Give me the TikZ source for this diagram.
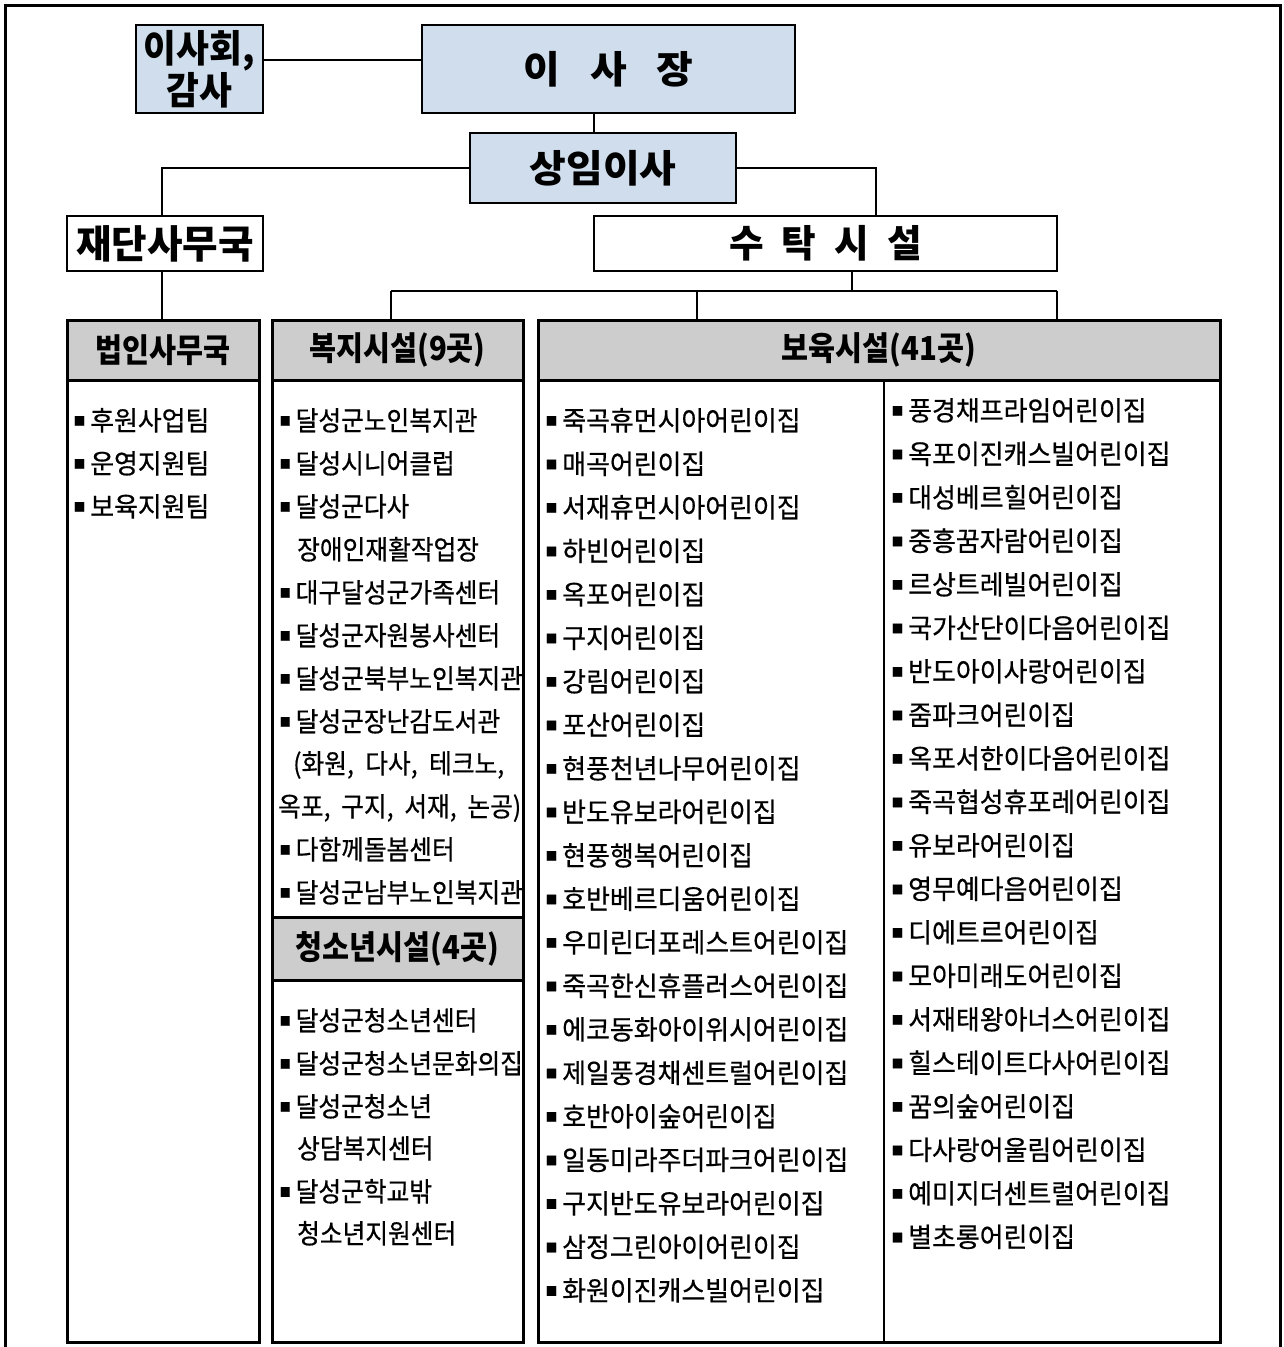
\documentclass[tikz,border=0pt]{standalone}
\usepackage{fontspec}
\setmainfont{Noto Sans CJK KR}
\newfontfamily\itemf{Noto Sans CJK KR}[FakeStretch=0.96,FakeBold=0.6]
\newfontfamily\itemn{Noto Sans CJK KR}[FakeStretch=0.915,FakeBold=0.6]
\newfontfamily\hdf{Noto Sans CJK KR}[FakeStretch=0.89]
\newfontfamily\topa{Noto Sans CJK KR}[FakeStretch=0.99]
\newfontfamily\topb{Noto Sans CJK KR}[FakeStretch=1.05]
\newfontfamily\topc{Noto Sans CJK KR}[FakeStretch=0.94]
\definecolor{boxblue}{HTML}{CFDDEC}
\definecolor{hdgray}{HTML}{CDCDCD}
\newcommand\bul{\raisebox{5pt}{\fontsize{12}{12}\selectfont ■}\hspace{5pt}}
\begin{document}
\begin{tikzpicture}[x=1pt,y=-1pt,
  topbox/.style={draw, line width=2.6pt, inner sep=0pt, align=center},
  bluebox/.style={topbox, fill=boxblue},
  colbox/.style={draw, line width=3pt, inner sep=0pt, minimum height=1022pt},
  hdbox/.style={draw, line width=3pt, fill=hdgray, inner sep=0pt, minimum height=60pt, font=\hdf\bfseries\fontsize{33}{36}\selectfont},
  conn/.style={line width=2pt},
  item/.style={anchor=base west, inner sep=0pt, font=\itemf\fontsize{27}{30}\selectfont},
  itemn/.style={anchor=base west, inner sep=0pt, font=\itemn\fontsize{27}{30}\selectfont}
]
\useasboundingbox (0,0) rectangle (1284,1347);
% outer frame
\draw[line width=3pt] (5,1352) -- (5,5) -- (1280,5) -- (1280,1352);

% top boxes
\node[bluebox, minimum width=127pt, minimum height=88pt, font=\topc\bfseries\fontsize{38}{39}\selectfont] (board) at (199.5,69) {이사회,\\감사};
\node[bluebox, minimum width=373pt, minimum height=88pt, font=\topb\bfseries\fontsize{38}{40}\selectfont] (chair) at (608.5,69) {이\hspace{30pt}사\hspace{30pt}장};
\node[bluebox, minimum width=266pt, minimum height=70pt, font=\topb\bfseries\fontsize{38}{40}\selectfont] (exec) at (603,168) {상임이사};
\node[topbox, minimum width=196pt, minimum height=55pt, font=\topa\bfseries\fontsize{39}{40}\selectfont] (found) at (165,243.5) {재단사무국};
\node[topbox, minimum width=463pt, minimum height=55pt, font=\topa\bfseries\fontsize{38}{40}\selectfont] (trust) at (825.5,243.5) {수\hspace{18pt}탁\hspace{18pt}시\hspace{18pt}설};

% column headers and columns
\node[hdbox, minimum width=192pt] (lawH) at (163,350) {법인사무국};
\node[hdbox, minimum width=251pt] (welH) at (397.5,350) {복지시설(9곳)};
\node[hdbox, minimum width=682pt] (chH) at (879,350) {보육시설(41곳)};
\node[hdbox, minimum width=251pt, minimum height=63pt] (youH) at (397.5,948.5) {청소년시설(4곳)};
\node[colbox, minimum width=192pt] (law) at (163,831) {};
\node[colbox, minimum width=251pt] (wel) at (397.5,831) {};
\node[colbox, minimum width=682pt] (child) at (879,831) {};
\coordinate (divT) at (884,380);
\draw[conn] (divT) -- (divT |- child.south);

% connectors
\draw[conn] ([yshift=9pt]board.east) -- ([yshift=9pt]chair.west);
\draw[conn] ([xshift=-14.5pt]chair.south) -- ([xshift=-14.5pt]chair.south |- exec.north);
\draw[conn] (exec.west) -| ([xshift=-3pt]found.north);
\draw[conn] (exec.east) -| ([xshift=50.5pt]trust.north);
\draw[conn] ([xshift=-3pt]found.south) -- ([xshift=-3pt]found.south |- law.north);
\coordinate (busT) at (852,291);
\coordinate (busL) at (391,291);
\coordinate (busM) at (697,291);
\coordinate (busR) at (1057,291);
\draw[conn] (busT |- trust.south) -- (busT);
\draw[conn] (busL) -- (busR);
\draw[conn] (busL) -- (busL |- wel.north);
\draw[conn] (busM) -- (busM |- child.north);
\draw[conn] (busR) -- (busR |- child.north);

% 법인사무국 items
\foreach \t [count=\i from 0] in {후원사업팀,운영지원팀,보육지원팀}
  \node[item] (a\i) at (73.5,430.5+43*\i) {\bul\t};

% 복지시설 items
\node[itemn] (w0) at (279.5,430.5) {\bul 달성군노인복지관};
\node[itemn] (w1) at (279.5,473.5) {\bul 달성시니어클럽};
\node[itemn] (w2) at (279.5,516.5) {\bul 달성군다사};
\node[itemn] (w3) at (297,559.5) {장애인재활작업장};
\node[itemn] (w4) at (279.5,602.5) {\bul 대구달성군가족센터};
\node[itemn] (w5) at (279.5,645.5) {\bul 달성군자원봉사센터};
\node[itemn] (w6) at (279.5,688.5) {\bul 달성군북부노인복지관};
\node[itemn] (w7) at (279.5,731.5) {\bul 달성군장난감도서관};
\node[itemn] (w8) at (293,773.5) {\makebox[211pt][s]{(화원, 다사, 테크노,}};
\node[itemn] (w9) at (278,816.5) {\makebox[243pt][s]{옥포, 구지, 서재, 논공)}};
\node[itemn] (w10) at (279.5,859.5) {\bul 다함께돌봄센터};
\node[itemn] (w11) at (279.5,902.5) {\bul 달성군남부노인복지관};

% 청소년시설 items
\node[itemn] (y0) at (279.5,1030.5) {\bul 달성군청소년센터};
\node[itemn] (y1) at (279.5,1073.5) {\bul 달성군청소년문화의집};
\node[itemn] (y2) at (279.5,1116.5) {\bul 달성군청소년};
\node[itemn] (y3) at (297,1158.5) {상담복지센터};
\node[itemn] (y4) at (279.5,1201.5) {\bul 달성군학교밖};
\node[itemn] (y5) at (297,1243.5) {청소년지원센터};

% 보육시설 left
\foreach \t [count=\i from 0] in {죽곡휴먼시아어린이집,매곡어린이집,서재휴먼시아어린이집,하빈어린이집,옥포어린이집,구지어린이집,강림어린이집,포산어린이집,현풍천년나무어린이집,반도유보라어린이집,현풍행복어린이집,호반베르디움어린이집,우미린더포레스트어린이집,죽곡한신휴플러스어린이집,에코동화아이위시어린이집,제일풍경채센트럴어린이집,호반아이숲어린이집,일동미라주더파크어린이집,구지반도유보라어린이집,삼정그린아이어린이집,화원이진캐스빌어린이집}
  \node[item] (l\i) at (545.5,430.5+43.5*\i) {\bul\t};

% 보육시설 right
\foreach \t [count=\i from 0] in {풍경채프라임어린이집,옥포이진캐스빌어린이집,대성베르힐어린이집,중흥꿈자람어린이집,르상트레빌어린이집,국가산단이다음어린이집,반도아이사랑어린이집,줌파크어린이집,옥포서한이다음어린이집,죽곡협성휴포레어린이집,유보라어린이집,영무예다음어린이집,디에트르어린이집,모아미래도어린이집,서재태왕아너스어린이집,힐스테이트다사어린이집,꿈의숲어린이집,다사랑어울림어린이집,예미지더센트럴어린이집,별초롱어린이집}
  \node[item] (r\i) at (891.5,420.5+43.5*\i) {\bul\t};
\end{tikzpicture}
\end{document}
